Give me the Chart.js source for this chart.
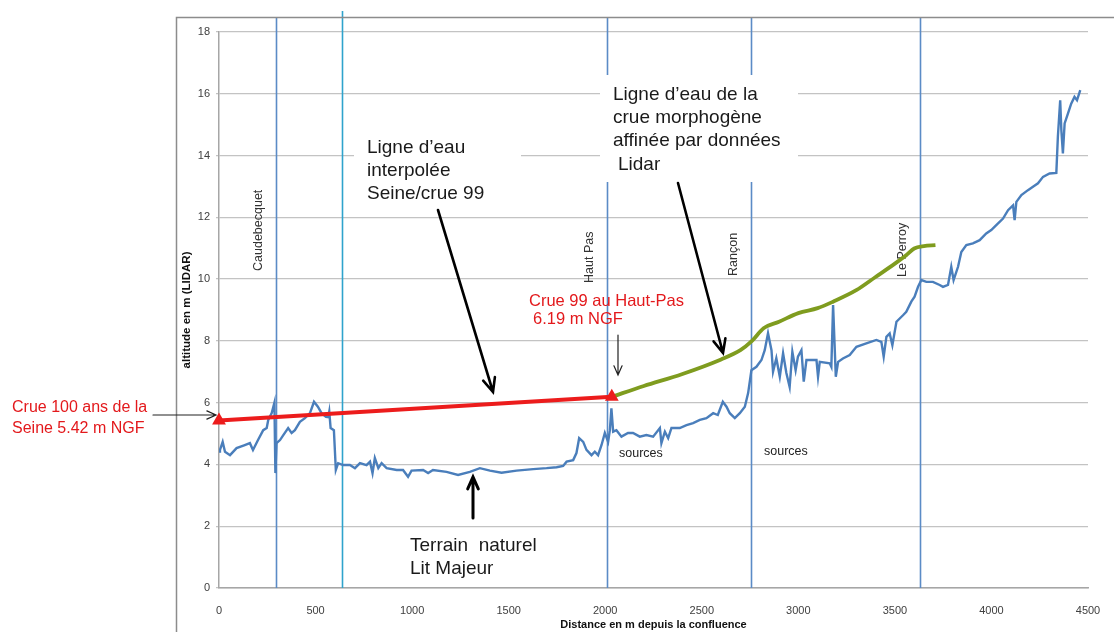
<!DOCTYPE html>
<html>
<head>
<meta charset="utf-8">
<script src="https://cdn.jsdelivr.net/npm/chart.js@4.4.0/dist/chart.umd.min.js"></script>
<style>
  html, body { margin: 0; padding: 0; background: #fff; }
</style>
</head>
<body>
<canvas id="profil" width="1114" height="632"></canvas>
<script>
// terrain naturel (LIDAR) : distance (m) / altitude (m NGF)
const terrainX = [0, 5, 19, 31, 57, 91, 130, 160, 176, 202, 229, 247, 255, 273, 287, 292, 298, 316, 333, 358, 376, 393, 419, 445, 471, 492, 512, 531, 554, 566, 571, 578, 595, 605, 617, 643, 678, 704, 730, 764, 782, 795, 807, 825, 842, 868, 920, 953, 979, 997, 1057, 1083, 1108, 1178, 1238, 1299, 1351, 1403, 1463, 1541, 1627, 1696, 1748, 1782, 1800, 1834, 1851, 1865, 1886, 1903, 1929, 1946, 1963, 1981, 1998, 2015, 2024, 2032, 2041, 2058, 2084, 2118, 2144, 2179, 2213, 2248, 2283, 2291, 2309, 2326, 2343, 2386, 2421, 2455, 2490, 2524, 2559, 2583, 2609, 2628, 2645, 2671, 2697, 2723, 2740, 2757, 2783, 2809, 2826, 2843, 2861, 2869, 2886, 2904, 2921, 2938, 2955, 2969, 2986, 2998, 3016, 3028, 3042, 3094, 3102, 3111, 3163, 3171, 3180, 3194, 3206, 3231, 3266, 3301, 3352, 3404, 3430, 3442, 3456, 3473, 3487, 3508, 3542, 3559, 3585, 3602, 3620, 3637, 3663, 3697, 3732, 3749, 3775, 3792, 3804, 3827, 3844, 3870, 3904, 3939, 3973, 3999, 4025, 4060, 4086, 4112, 4120, 4129, 4155, 4189, 4215, 4241, 4267, 4301, 4336, 4344, 4356, 4362, 4370, 4379, 4396, 4413, 4430, 4443, 4460];
const terrainY = [4.42, 4.47, 4.73, 4.41, 4.30, 4.53, 4.62, 4.69, 4.47, 4.79, 5.11, 5.18, 5.44, 5.66, 6.0, 3.72, 4.69, 4.79, 4.95, 5.18, 5.02, 5.11, 5.38, 5.50, 5.66, 6.03, 5.87, 5.66, 5.54, 5.53, 5.71, 5.18, 5.11, 3.82, 4.04, 3.98, 3.98, 3.88, 4.04, 3.98, 4.09, 3.72, 4.21, 3.88, 4.04, 3.88, 3.82, 3.82, 3.60, 3.80, 3.82, 3.72, 3.82, 3.76, 3.66, 3.76, 3.88, 3.80, 3.73, 3.80, 3.85, 3.88, 3.91, 3.95, 4.09, 4.14, 4.37, 4.85, 4.73, 4.47, 4.30, 4.41, 4.30, 4.63, 5.02, 4.73, 5.11, 5.82, 5.06, 5.11, 4.90, 5.02, 5.02, 4.90, 4.95, 4.90, 5.18, 4.69, 5.06, 4.85, 5.18, 5.18, 5.27, 5.34, 5.44, 5.50, 5.66, 5.60, 6.03, 5.87, 5.66, 5.50, 5.66, 5.87, 6.31, 7.05, 7.16, 7.38, 7.70, 8.25, 7.70, 7.00, 7.44, 6.84, 7.60, 6.96, 6.51, 7.65, 7.05, 7.49, 7.70, 6.68, 7.38, 7.38, 6.84, 7.32, 7.27, 7.16, 9.16, 6.84, 7.32, 7.43, 7.54, 7.81, 7.92, 8.03, 7.97, 7.49, 8.13, 8.24, 7.86, 8.62, 8.83, 8.94, 9.27, 9.43, 9.75, 9.97, 9.91, 9.91, 9.81, 9.75, 9.81, 10.40, 9.97, 10.40, 10.88, 11.10, 11.16, 11.26, 11.48, 11.59, 11.75, 11.96, 12.23, 12.39, 11.91, 12.50, 12.72, 12.88, 12.99, 13.10, 13.31, 13.42, 13.44, 14.61, 15.79, 14.82, 14.07, 15.04, 15.36, 15.68, 15.90, 15.79, 16.12];

// ligne d'eau interpolée Seine / crue 99
const crueX = [0, 2034];
const crueY = [5.42, 6.19];

// ligne d'eau crue morphogène (Lidar)
const morphoX = [2034, 2200, 2400, 2600, 2700, 2760, 2820, 2900, 3000, 3100, 3180, 3300, 3400, 3500, 3560, 3600, 3650, 3710];
const morphoY = [6.19, 6.54, 6.93, 7.40, 7.70, 8.0, 8.41, 8.62, 8.9, 9.06, 9.27, 9.64, 10.07, 10.5, 10.78, 10.99, 11.07, 11.1];

// repères (lieux-dits)
const markerPos = [295, 637, 2008, 2754, 3628];
const markerNames = ['Caudebecquet', '', 'Haut Pas', 'Rançon', 'Le Perroy'];

const toPoints = (xs, ys) => xs.map((v, i) => ({ x: v, y: ys[i] }));

function arrow(ctx, x1, y1, x2, y2, w, head) {
  const a = Math.atan2(y2 - y1, x2 - x1);
  ctx.lineWidth = w;
  ctx.beginPath();
  ctx.moveTo(x1, y1);
  ctx.lineTo(x2, y2);
  ctx.moveTo(x2 - head * Math.cos(a - 0.42), y2 - head * Math.sin(a - 0.42));
  ctx.lineTo(x2, y2);
  ctx.lineTo(x2 - head * Math.cos(a + 0.42), y2 - head * Math.sin(a + 0.42));
  ctx.stroke();
}

function lines(ctx, arr, x, y, step) {
  arr.forEach((t, i) => ctx.fillText(t, x, y + i * step));
}

const overlay = {
  id: 'overlay',
  beforeDatasetsDraw(chart) {
    const { ctx, scales: { x, y } } = chart;
    const bottom = y.getPixelForValue(0);
    const tops = [17, 11, 17, 17, 17];
    const colors = ['#5b8bc6', '#2fa3cc', '#5b8bc6', '#5b8bc6', '#5b8bc6'];
    const nameBottom = [271, 0, 283, 276, 277];
    ctx.save();
    markerPos.forEach((v, i) => {
      const px = Math.round(x.getPixelForValue(v)) + 0.5;
      ctx.strokeStyle = colors[i];
      ctx.lineWidth = 1.6;
      ctx.beginPath();
      ctx.moveTo(px, tops[i]);
      ctx.lineTo(px, bottom);
      ctx.stroke();
    });
    // text boxes hide the grid behind them
    ctx.fillStyle = '#fff';
    ctx.fillRect(354, 126, 167, 82);
    ctx.fillRect(600, 75, 198, 107);
    // place names
    ctx.fillStyle = '#333';
    ctx.font = '12.5px "Liberation Sans"';
    ctx.textAlign = 'left';
    ctx.textBaseline = 'alphabetic';
    markerPos.forEach((v, i) => {
      if (!markerNames[i]) return;
      const px = x.getPixelForValue(v) - 14;
      ctx.save();
      ctx.translate(px, nameBottom[i]);
      ctx.rotate(-Math.PI / 2);
      ctx.fillText(markerNames[i], 0, 0);
      ctx.restore();
    });
    ctx.restore();
  },
  afterDraw(chart) {
    const { ctx } = chart;
    ctx.save();
    // chart area frame
    ctx.strokeStyle = '#8c8c8c';
    ctx.lineWidth = 1.5;
    ctx.beginPath();
    ctx.moveTo(176.5, 632);
    ctx.lineTo(176.5, 17.5);
    ctx.lineTo(1114, 17.5);
    ctx.stroke();

    ctx.textAlign = 'left';
    ctx.textBaseline = 'alphabetic';
    ctx.fillStyle = '#1a1a1a';
    ctx.font = '19px "Liberation Sans"';
    lines(ctx, ['Ligne d\u2019eau', 'interpolée', 'Seine/crue 99'], 367, 153, 23);
    lines(ctx, ['Ligne d\u2019eau de la', 'crue morphogène', 'affinée par données'], 613, 100, 23);
    ctx.fillText('Lidar', 618, 170);
    lines(ctx, ['Terrain  naturel', 'Lit Majeur'], 410, 551, 23);

    ctx.font = '12.5px "Liberation Sans"';
    ctx.fillStyle = '#222';
    ctx.fillText('sources', 619, 457);
    ctx.fillText('sources', 764, 455);

    ctx.fillStyle = '#e3191c';
    ctx.font = '16.5px "Liberation Sans"';
    ctx.fillText('Crue 99 au Haut-Pas', 529, 306);
    ctx.fillText('6.19 m NGF', 533, 324);
    ctx.font = '16px "Liberation Sans"';
    lines(ctx, ['Crue 100 ans de la', 'Seine 5.42 m NGF'], 12, 412, 21);

    ctx.strokeStyle = '#000';
    ctx.lineCap = 'round';
    arrow(ctx, 438, 210, 493, 392, 2.6, 15);
    arrow(ctx, 678, 183, 723, 353, 2.6, 15);
    arrow(ctx, 473, 518, 473, 477, 3, 13);
    ctx.strokeStyle = '#222';
    arrow(ctx, 618, 335, 618, 375, 1.2, 10);
    arrow(ctx, 153, 415, 216, 415, 1.2, 10);
    ctx.restore();
  }
};

Chart.defaults.font.family = '"Liberation Sans", Arial, sans-serif';

new Chart(document.getElementById('profil'), {
  type: 'line',
  data: {
    datasets: [
      {
        label: 'Crue 99',
        data: toPoints(crueX, crueY),
        borderColor: '#ec1c1c',
        backgroundColor: '#ec1c1c',
        borderWidth: 4,
        pointStyle: 'triangle',
        pointRadius: 8,
        pointBorderWidth: 0,
        clip: false,
        order: 0,
      },
      {
        label: 'Crue morphogène',
        data: toPoints(morphoX, morphoY),
        borderColor: '#7f9c1f',
        borderWidth: 3.8,
        pointRadius: 0,
        cubicInterpolationMode: 'monotone',
        clip: false,
        order: 1,
      },
      {
        label: 'Terrain naturel',
        data: toPoints(terrainX, terrainY),
        borderColor: '#4a7ebb',
        borderWidth: 2.4,
        pointRadius: 0,
        tension: 0,
        order: 2,
      },
    ],
  },
  options: {
    responsive: false,
    animation: false,
    events: [],
    layout: { padding: { left: 176, top: 32, right: 26, bottom: 0 } },
    plugins: {
      legend: { display: false },
      tooltip: { enabled: false },
    },
    scales: {
      x: {
        type: 'linear',
        min: 0,
        max: 4500,
        ticks: { stepSize: 500, color: '#404040', font: { size: 11 }, padding: 8, callback: v => String(v) },
        grid: { display: false },
        border: { display: true, color: '#a6a6a6', width: 1.5 },
        title: {
          display: true,
          text: 'Distance en m depuis la confluence',
          color: '#111',
          font: { size: 11, weight: 'bold' },
          padding: { top: 1, bottom: 0 },
        },
        afterFit(scale) { scale.height = 44; },
      },
      y: {
        min: 0,
        max: 18,
        ticks: { stepSize: 2, color: '#404040', font: { size: 11 }, padding: 6, callback: v => String(v) },
        grid: { color: '#c3c3c3', lineWidth: 1.3, tickLength: 3 },
        border: { display: true, color: '#a6a6a6', width: 1.5 },
        title: {
          display: true,
          text: 'altitude en m (LIDAR)',
          color: '#111',
          font: { size: 11.5, weight: 'bold' },
          padding: { top: 4, bottom: 0 },
        },
        afterFit(scale) { scale.width = 43; },
      },
    },
  },
  plugins: [overlay],
});
</script>
</body>
</html>
